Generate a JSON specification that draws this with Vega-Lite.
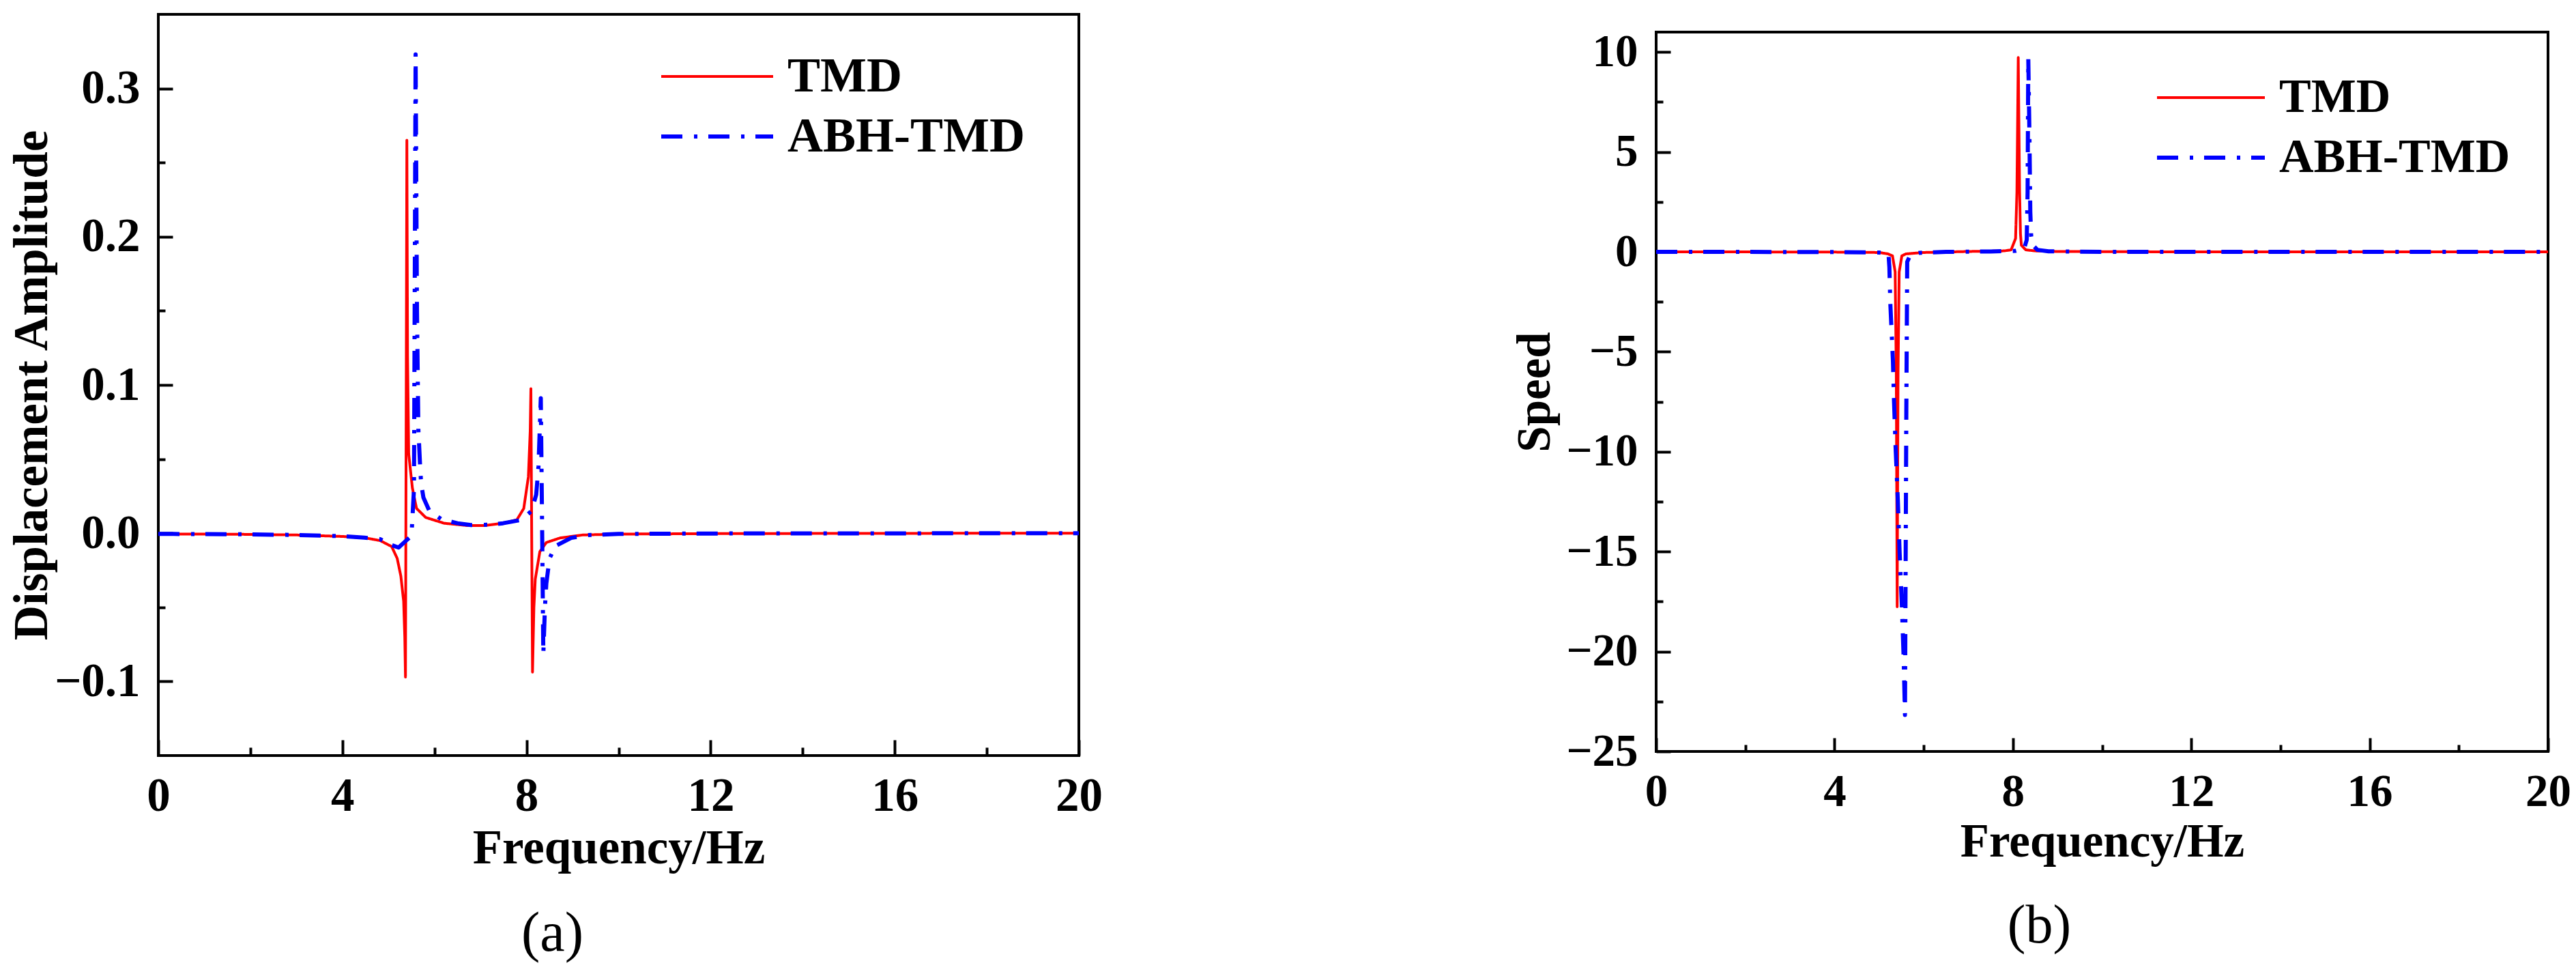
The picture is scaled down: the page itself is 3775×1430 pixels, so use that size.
{
  "$schema": "https://vega.github.io/schema/vega-lite/v6.json",
  "background": "white",
  "padding": {"left": 8, "top": 19, "right": 5, "bottom": 5},
  "config": {
    "view": {"stroke": "black", "strokeWidth": 4},
    "font": "Liberation Serif",
    "axis": {
      "domain": false, "grid": false, "ticks": true,
      "tickColor": "black", "tickWidth": 4,
      "labelFont": "Liberation Serif", "labelFontWeight": "bold", "labelColor": "black",
      "titleFont": "Liberation Serif", "titleFontWeight": "bold", "titleColor": "black",
      "labelOverlap": false, "labelFlush": false, "labelBound": false
    },
    "legend": {"labelLimit": 0}
  },
  "datasets": {
    "disp": [
      {"f":0,"v":-0.0005,"s":"TMD"},{"f":1,"v":-0.0006,"s":"TMD"},{"f":2,"v":-0.0008,"s":"TMD"},{"f":3,"v":-0.0012,"s":"TMD"},{"f":4,"v":-0.0022,"s":"TMD"},{"f":4.5,"v":-0.0032,"s":"TMD"},{"f":4.82,"v":-0.005,"s":"TMD"},{"f":5.07,"v":-0.009,"s":"TMD"},{"f":5.19,"v":-0.017,"s":"TMD"},{"f":5.27,"v":-0.029,"s":"TMD"},{"f":5.33,"v":-0.046,"s":"TMD"},{"f":5.355,"v":-0.07,"s":"TMD"},{"f":5.37,"v":-0.097,"s":"TMD"},{"f":5.385,"v":0.08,"s":"TMD"},{"f":5.4,"v":0.265,"s":"TMD"},{"f":5.415,"v":0.12,"s":"TMD"},{"f":5.44,"v":0.0535,"s":"TMD"},{"f":5.52,"v":0.0305,"s":"TMD"},{"f":5.61,"v":0.0167,"s":"TMD"},{"f":5.81,"v":0.0106,"s":"TMD"},{"f":6.21,"v":0.0067,"s":"TMD"},{"f":6.7,"v":0.0052,"s":"TMD"},{"f":7.1,"v":0.0052,"s":"TMD"},{"f":7.49,"v":0.0067,"s":"TMD"},{"f":7.79,"v":0.009,"s":"TMD"},{"f":7.94,"v":0.0167,"s":"TMD"},{"f":8.04,"v":0.038,"s":"TMD"},{"f":8.08,"v":0.069,"s":"TMD"},{"f":8.095,"v":0.0975,"s":"TMD"},{"f":8.112,"v":0.0,"s":"TMD"},{"f":8.13,"v":-0.0937,"s":"TMD"},{"f":8.16,"v":-0.05,"s":"TMD"},{"f":8.19,"v":-0.031,"s":"TMD"},{"f":8.29,"v":-0.0124,"s":"TMD"},{"f":8.43,"v":-0.0063,"s":"TMD"},{"f":8.73,"v":-0.0032,"s":"TMD"},{"f":9.22,"v":-0.0012,"s":"TMD"},{"f":10,"v":-0.0006,"s":"TMD"},{"f":12,"v":-0.0003,"s":"TMD"},{"f":16,"v":-0.0001,"s":"TMD"},{"f":20,"v":0,"s":"TMD"},
      {"f":0,"v":-0.0005,"s":"ABH-TMD"},{"f":1,"v":-0.0006,"s":"ABH-TMD"},{"f":2,"v":-0.0008,"s":"ABH-TMD"},{"f":3,"v":-0.0012,"s":"ABH-TMD"},{"f":4,"v":-0.002,"s":"ABH-TMD"},{"f":4.48,"v":-0.003,"s":"ABH-TMD"},{"f":4.82,"v":-0.004,"s":"ABH-TMD"},{"f":5.07,"v":-0.008,"s":"ABH-TMD"},{"f":5.22,"v":-0.0097,"s":"ABH-TMD"},{"f":5.42,"v":-0.004,"s":"ABH-TMD"},{"f":5.5,"v":-0.002,"s":"ABH-TMD"},{"f":5.555,"v":0.03,"s":"ABH-TMD"},{"f":5.59,"v":0.323,"s":"ABH-TMD"},{"f":5.62,"v":0.15,"s":"ABH-TMD"},{"f":5.65,"v":0.07,"s":"ABH-TMD"},{"f":5.69,"v":0.044,"s":"ABH-TMD"},{"f":5.71,"v":0.0336,"s":"ABH-TMD"},{"f":5.76,"v":0.024,"s":"ABH-TMD"},{"f":5.89,"v":0.015,"s":"ABH-TMD"},{"f":6.16,"v":0.0092,"s":"ABH-TMD"},{"f":6.5,"v":0.0067,"s":"ABH-TMD"},{"f":6.79,"v":0.0055,"s":"ABH-TMD"},{"f":7.19,"v":0.0057,"s":"ABH-TMD"},{"f":7.49,"v":0.0067,"s":"ABH-TMD"},{"f":7.89,"v":0.009,"s":"ABH-TMD"},{"f":8.11,"v":0.015,"s":"ABH-TMD"},{"f":8.21,"v":0.026,"s":"ABH-TMD"},{"f":8.26,"v":0.045,"s":"ABH-TMD"},{"f":8.31,"v":0.091,"s":"ABH-TMD"},{"f":8.34,"v":0.0,"s":"ABH-TMD"},{"f":8.365,"v":-0.0815,"s":"ABH-TMD"},{"f":8.4,"v":-0.05,"s":"ABH-TMD"},{"f":8.43,"v":-0.034,"s":"ABH-TMD"},{"f":8.5,"v":-0.017,"s":"ABH-TMD"},{"f":8.63,"v":-0.0086,"s":"ABH-TMD"},{"f":8.97,"v":-0.0032,"s":"ABH-TMD"},{"f":9.33,"v":-0.0013,"s":"ABH-TMD"},{"f":10,"v":-0.0005,"s":"ABH-TMD"},{"f":12,"v":-0.0002,"s":"ABH-TMD"},{"f":16,"v":-0.0001,"s":"ABH-TMD"},{"f":20,"v":0,"s":"ABH-TMD"}
    ],
    "speed": [
      {"f":0,"v":0,"s":"TMD"},{"f":2,"v":0,"s":"TMD"},{"f":4,"v":-0.01,"s":"TMD"},{"f":5,"v":-0.03,"s":"TMD"},{"f":5.2,"v":-0.1,"s":"TMD"},{"f":5.3,"v":-0.2,"s":"TMD"},{"f":5.36,"v":-1.0,"s":"TMD"},{"f":5.385,"v":-6,"s":"TMD"},{"f":5.405,"v":-17.76,"s":"TMD"},{"f":5.425,"v":-6,"s":"TMD"},{"f":5.45,"v":-1.0,"s":"TMD"},{"f":5.51,"v":-0.2,"s":"TMD"},{"f":5.6,"v":-0.1,"s":"TMD"},{"f":6,"v":-0.03,"s":"TMD"},{"f":7,"v":0.02,"s":"TMD"},{"f":7.8,"v":0.05,"s":"TMD"},{"f":7.96,"v":0.1,"s":"TMD"},{"f":8.06,"v":0.67,"s":"TMD"},{"f":8.09,"v":3,"s":"TMD"},{"f":8.12,"v":9.73,"s":"TMD"},{"f":8.15,"v":3,"s":"TMD"},{"f":8.17,"v":0.9,"s":"TMD"},{"f":8.19,"v":0.33,"s":"TMD"},{"f":8.29,"v":0.1,"s":"TMD"},{"f":8.5,"v":0.05,"s":"TMD"},{"f":9,"v":0.02,"s":"TMD"},{"f":12,"v":0,"s":"TMD"},{"f":20,"v":0,"s":"TMD"},
      {"f":0,"v":0,"s":"ABH-TMD"},{"f":2,"v":0,"s":"ABH-TMD"},{"f":4,"v":-0.01,"s":"ABH-TMD"},{"f":5,"v":-0.03,"s":"ABH-TMD"},{"f":5.21,"v":-0.1,"s":"ABH-TMD"},{"f":5.23,"v":-0.76,"s":"ABH-TMD"},{"f":5.25,"v":-2.5,"s":"ABH-TMD"},{"f":5.31,"v":-5.47,"s":"ABH-TMD"},{"f":5.33,"v":-7.2,"s":"ABH-TMD"},{"f":5.37,"v":-9.8,"s":"ABH-TMD"},{"f":5.42,"v":-12.45,"s":"ABH-TMD"},{"f":5.46,"v":-15.06,"s":"ABH-TMD"},{"f":5.51,"v":-17.68,"s":"ABH-TMD"},{"f":5.55,"v":-20.3,"s":"ABH-TMD"},{"f":5.58,"v":-23.17,"s":"ABH-TMD"},{"f":5.61,"v":-8,"s":"ABH-TMD"},{"f":5.63,"v":-0.5,"s":"ABH-TMD"},{"f":5.7,"v":-0.15,"s":"ABH-TMD"},{"f":5.9,"v":-0.05,"s":"ABH-TMD"},{"f":6.5,"v":0,"s":"ABH-TMD"},{"f":7.5,"v":0.02,"s":"ABH-TMD"},{"f":8.06,"v":0.05,"s":"ABH-TMD"},{"f":8.25,"v":0.15,"s":"ABH-TMD"},{"f":8.31,"v":0.6,"s":"ABH-TMD"},{"f":8.33,"v":3,"s":"ABH-TMD"},{"f":8.345,"v":9.67,"s":"ABH-TMD"},{"f":8.37,"v":6,"s":"ABH-TMD"},{"f":8.39,"v":2,"s":"ABH-TMD"},{"f":8.41,"v":0.8,"s":"ABH-TMD"},{"f":8.45,"v":0.33,"s":"ABH-TMD"},{"f":8.55,"v":0.1,"s":"ABH-TMD"},{"f":8.8,"v":0.03,"s":"ABH-TMD"},{"f":10,"v":0,"s":"ABH-TMD"},{"f":20,"v":0,"s":"ABH-TMD"}
    ]
  },
  "bounds": "flush",
  "spacing": 846,
  "resolve": {
    "scale": {"color": "independent", "strokeDash": "independent", "strokeWidth": "independent", "x": "independent", "y": "independent"},
    "legend": {"color": "independent", "strokeDash": "independent", "strokeWidth": "independent"}
  },
  "hconcat": [
    {
      "width": 1349,
      "height": 1086,
      "data": {"name": "disp"},
      "title": {"text": "(a)", "orient": "bottom", "anchor": "middle", "frame": "group", "dx": -97, "offset": 50, "font": "Liberation Serif", "fontSize": 82, "fontWeight": "normal", "color": "black"},
      "mark": {"type": "line", "strokeJoin": "round", "clip": true},
      "encoding": {
        "x": {
          "field": "f", "type": "quantitative",
          "scale": {"domain": [0, 20], "nice": false, "zero": false},
          "axis": {
            "title": "Frequency/Hz",
            "values": [0, 2, 4, 6, 8, 10, 12, 14, 16, 18, 20],
            "labelExpr": "datum.value % 4 === 0 ? datum.label : ''",
            "tickSize": {"condition": {"test": "datum.value % 4 === 0", "value": -23}, "value": -12},
            "labelPadding": 48,
            "labelFontSize": 69,
            "titleFontSize": 71,
            "titleY": 101,
            "titleBaseline": "top"
          }
        },
        "y": {
          "field": "v", "type": "quantitative",
          "scale": {"domain": [-0.15, 0.35], "nice": false, "zero": false},
          "axis": {
            "title": "Displacement Amplitude",
            "values": [-0.1, -0.05, 0, 0.05, 0.1, 0.15, 0.2, 0.25, 0.3],
            "format": ".1f",
            "labelExpr": "abs(datum.value*10 - round(datum.value*10)) < 0.001 ? datum.label : ''",
            "tickSize": {"condition": {"test": "abs(datum.value*10 - round(datum.value*10)) < 0.001", "value": -21}, "value": -10},
            "labelPadding": 48,
            "labelFontSize": 69,
            "titleFontSize": 71,
            "titleX": -164,
            "titleY": 543,
            "titleAlign": "center",
            "titleBaseline": "alphabetic"
          }
        },
        "color": {
          "field": "s", "type": "nominal",
          "scale": {"domain": ["TMD", "ABH-TMD"], "range": ["#ff0000", "#0000ff"]},
          "legend": {"title": null, "orient": "none", "legendX": 734, "legendY": 51, "symbolType": "stroke", "symbolSize": 26896, "clipHeight": 80, "labelFont": "Liberation Serif", "labelFontWeight": "bold", "labelFontSize": 72, "labelColor": "black", "labelOffset": 18, "labelLimit": 0, "rowPadding": 8, "padding": 0}
        },
        "strokeDash": {
          "field": "s", "type": "nominal",
          "scale": {"domain": ["TMD", "ABH-TMD"], "range": [[1, 0], [31, 17, 5, 16]]},
          "legend": {"title": null, "orient": "none", "legendX": 734, "legendY": 51, "symbolType": "stroke", "symbolSize": 26896, "clipHeight": 80, "labelFont": "Liberation Serif", "labelFontWeight": "bold", "labelFontSize": 72, "labelColor": "black", "labelOffset": 18, "labelLimit": 0, "rowPadding": 8, "padding": 0}
        },
        "strokeWidth": {
          "field": "s", "type": "nominal",
          "scale": {"domain": ["TMD", "ABH-TMD"], "range": [4, 6]},
          "legend": {"title": null, "orient": "none", "legendX": 734, "legendY": 51, "symbolType": "stroke", "symbolSize": 26896, "clipHeight": 80, "labelFont": "Liberation Serif", "labelFontWeight": "bold", "labelFontSize": 72, "labelColor": "black", "labelOffset": 18, "labelLimit": 0, "rowPadding": 8, "padding": 0}
        }
      }
    },
    {
      "bounds": "flush",
      "spacing": 0,
      "vconcat": [
        {
          "width": 1307,
          "height": 26,
          "view": {"stroke": null},
          "data": {"values": [{}]},
          "mark": {"type": "rule", "opacity": 0},
          "encoding": {}
        },
        {
          "width": 1307,
          "height": 1054,
          "data": {"name": "speed"},
          "title": {"text": "(b)", "orient": "bottom", "anchor": "middle", "frame": "group", "dx": -92, "offset": 50, "font": "Liberation Serif", "fontSize": 80, "fontWeight": "normal", "color": "black"},
          "mark": {"type": "line", "strokeJoin": "round", "clip": true},
          "encoding": {
            "x": {
              "field": "f", "type": "quantitative",
              "scale": {"domain": [0, 20], "nice": false, "zero": false},
              "axis": {
                "title": "Frequency/Hz",
                "values": [0, 2, 4, 6, 8, 10, 12, 14, 16, 18, 20],
                "labelExpr": "datum.value % 4 === 0 ? datum.label : ''",
                "tickSize": {"condition": {"test": "datum.value % 4 === 0", "value": -20}, "value": -10},
                "labelPadding": 46,
                "labelFontSize": 67,
                "titleFontSize": 69,
                "titleY": 98,
                "titleBaseline": "top"
              }
            },
            "y": {
              "field": "v", "type": "quantitative",
              "scale": {"domain": [-25, 11], "nice": false, "zero": false},
              "axis": {
                "title": "Speed",
                "values": [-25, -22.5, -20, -17.5, -15, -12.5, -10, -7.5, -5, -2.5, 0, 2.5, 5, 7.5, 10],
                "format": "d",
                "labelExpr": "datum.value % 5 === 0 ? datum.label : ''",
                "tickSize": {"condition": {"test": "datum.value % 5 === 0", "value": -21}, "value": -10},
                "labelPadding": 48,
                "labelFontSize": 67,
                "titleFontSize": 69,
                "titleX": -157,
                "titleY": 527,
                "titleAlign": "center",
                "titleBaseline": "alphabetic"
              }
            },
            "color": {
              "field": "s", "type": "nominal",
              "scale": {"domain": ["TMD", "ABH-TMD"], "range": ["#ff0000", "#0000ff"]},
              "legend": {"title": null, "orient": "none", "legendX": 731, "legendY": 82, "symbolType": "stroke", "symbolSize": 24964, "clipHeight": 80, "labelFont": "Liberation Serif", "labelFontWeight": "bold", "labelFontSize": 70, "labelColor": "black", "labelOffset": 18, "labelLimit": 0, "rowPadding": 8, "padding": 0}
            },
            "strokeDash": {
              "field": "s", "type": "nominal",
              "scale": {"domain": ["TMD", "ABH-TMD"], "range": [[1, 0], [31, 17, 5, 16]]},
              "legend": {"title": null, "orient": "none", "legendX": 731, "legendY": 82, "symbolType": "stroke", "symbolSize": 24964, "clipHeight": 80, "labelFont": "Liberation Serif", "labelFontWeight": "bold", "labelFontSize": 70, "labelColor": "black", "labelOffset": 18, "labelLimit": 0, "rowPadding": 8, "padding": 0}
            },
            "strokeWidth": {
              "field": "s", "type": "nominal",
              "scale": {"domain": ["TMD", "ABH-TMD"], "range": [4, 6]},
              "legend": {"title": null, "orient": "none", "legendX": 731, "legendY": 82, "symbolType": "stroke", "symbolSize": 24964, "clipHeight": 80, "labelFont": "Liberation Serif", "labelFontWeight": "bold", "labelFontSize": 70, "labelColor": "black", "labelOffset": 18, "labelLimit": 0, "rowPadding": 8, "padding": 0}
            }
          }
        }
      ]
    }
  ]
}
